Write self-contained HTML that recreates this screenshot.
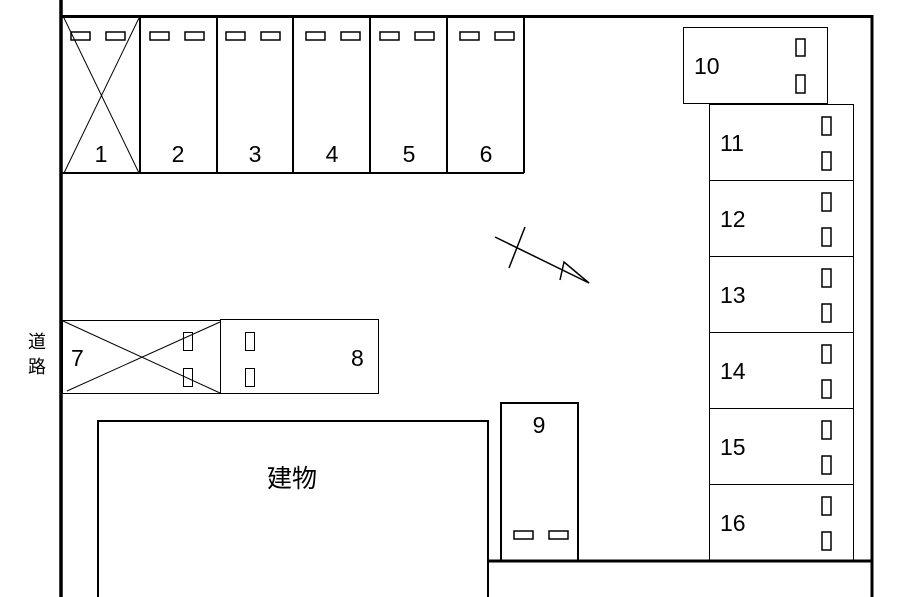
<!DOCTYPE html>
<html><head><meta charset="utf-8"><style>
html,body{margin:0;padding:0;background:#fff;}
svg{display:block;}
text{font-family:"Liberation Sans","Noto Sans CJK JP",sans-serif;fill:#000;}
</style></head><body>
<svg width="912" height="597" viewBox="0 0 912 597" xmlns="http://www.w3.org/2000/svg">
<g fill="none" stroke="#000">
<line x1="61" y1="0" x2="61" y2="597" stroke-width="3.5"/>
<line x1="60" y1="16.5" x2="873" y2="16.5" stroke-width="3"/>
<line x1="872" y1="15" x2="872" y2="597" stroke-width="3"/>
<line x1="488" y1="561" x2="873" y2="561" stroke-width="3"/>
<g stroke-width="2">
<line x1="62" y1="173" x2="524" y2="173"/>
<line x1="140" y1="17" x2="140" y2="173"/>
<line x1="217" y1="17" x2="217" y2="173"/>
<line x1="293" y1="17" x2="293" y2="173"/>
<line x1="370" y1="17" x2="370" y2="173"/>
<line x1="447" y1="17" x2="447" y2="173"/>
<line x1="524" y1="17" x2="524" y2="173"/>
</g>
<g stroke-width="1">
<line x1="64" y1="18" x2="139" y2="173"/>
<line x1="139" y1="18" x2="64" y2="173"/>
</g>
<g stroke-width="1.5">
<rect x="71" y="32" width="19" height="8"/><rect x="106" y="32" width="19" height="8"/>
<rect x="150" y="32" width="19" height="8"/><rect x="185" y="32" width="19" height="8"/>
<rect x="226" y="32" width="19" height="8"/><rect x="261" y="32" width="19" height="8"/>
<rect x="306" y="32" width="19" height="8"/><rect x="341" y="32" width="19" height="8"/>
<rect x="380" y="32" width="19" height="8"/><rect x="415" y="32" width="19" height="8"/>
<rect x="460" y="32" width="19" height="8"/><rect x="495" y="32" width="19" height="8"/>
</g>
<g stroke-width="1.5">
<line x1="495" y1="237" x2="589" y2="283"/>
<line x1="525" y1="227" x2="509" y2="268"/>
<polyline points="560,280 564,262 589,283"/>
</g>
<rect x="683.5" y="27.5" width="144" height="76" stroke-width="1"/>
<g stroke-width="1.5">
<rect x="796" y="39" width="9" height="17"/><rect x="796" y="75" width="9" height="18"/>
</g>
<g stroke-width="1">
<rect x="709.5" y="104.5" width="144" height="456"/>
<line x1="709" y1="180.5" x2="853" y2="180.5"/>
<line x1="709" y1="256.5" x2="853" y2="256.5"/>
<line x1="709" y1="332.5" x2="853" y2="332.5"/>
<line x1="709" y1="408.5" x2="853" y2="408.5"/>
<line x1="709" y1="484.5" x2="853" y2="484.5"/>
</g>
<g stroke-width="1.5">
<rect x="822" y="117" width="9" height="18"/><rect x="822" y="152" width="9" height="18"/>
<rect x="822" y="193" width="9" height="18"/><rect x="822" y="228" width="9" height="18"/>
<rect x="822" y="269" width="9" height="18"/><rect x="822" y="304" width="9" height="18"/>
<rect x="822" y="345" width="9" height="18"/><rect x="822" y="380" width="9" height="18"/>
<rect x="822" y="421" width="9" height="18"/><rect x="822" y="456" width="9" height="18"/>
<rect x="822" y="497" width="9" height="18"/><rect x="822" y="532" width="9" height="18"/>
</g>
<g stroke-width="1">
<rect x="62.5" y="320.5" width="158" height="73"/>
<rect x="220.5" y="319.5" width="158" height="74"/>
<line x1="63" y1="321" x2="220" y2="393"/>
<line x1="67" y1="391" x2="220" y2="322"/>
<rect x="183.5" y="332.5" width="9" height="18"/><rect x="183.5" y="368.5" width="9" height="18"/>
<rect x="245.5" y="332.5" width="9" height="18"/><rect x="245.5" y="368.5" width="9" height="18"/>
</g>
<path d="M98 597 V421 H488 V597" stroke-width="2"/>
<rect x="501" y="403" width="77" height="158" stroke-width="2"/>
<g stroke-width="1.5">
<rect x="514" y="531" width="19" height="8"/><rect x="549" y="531" width="19" height="8"/>
</g>
</g>
<g font-size="23">
<text x="101" y="162" text-anchor="middle">1</text>
<text x="178" y="162" text-anchor="middle">2</text>
<text x="255" y="162" text-anchor="middle">3</text>
<text x="332" y="162" text-anchor="middle">4</text>
<text x="409" y="162" text-anchor="middle">5</text>
<text x="486" y="162" text-anchor="middle">6</text>
<text x="694" y="74">10</text>
<text x="720" y="151">11</text>
<text x="720" y="227">12</text>
<text x="720" y="303">13</text>
<text x="720" y="379">14</text>
<text x="720" y="455">15</text>
<text x="720" y="531">16</text>
<text x="71" y="366">7</text>
<text x="351" y="366">8</text>
<text x="539" y="433" text-anchor="middle">9</text>
<text x="292" y="487" text-anchor="middle" font-size="25">建物</text>
</g>
<g font-size="18" fill="#222">
<text x="37" y="348" text-anchor="middle">道</text>
<text x="37" y="373" text-anchor="middle">路</text>
</g>
</svg>
</body></html>
